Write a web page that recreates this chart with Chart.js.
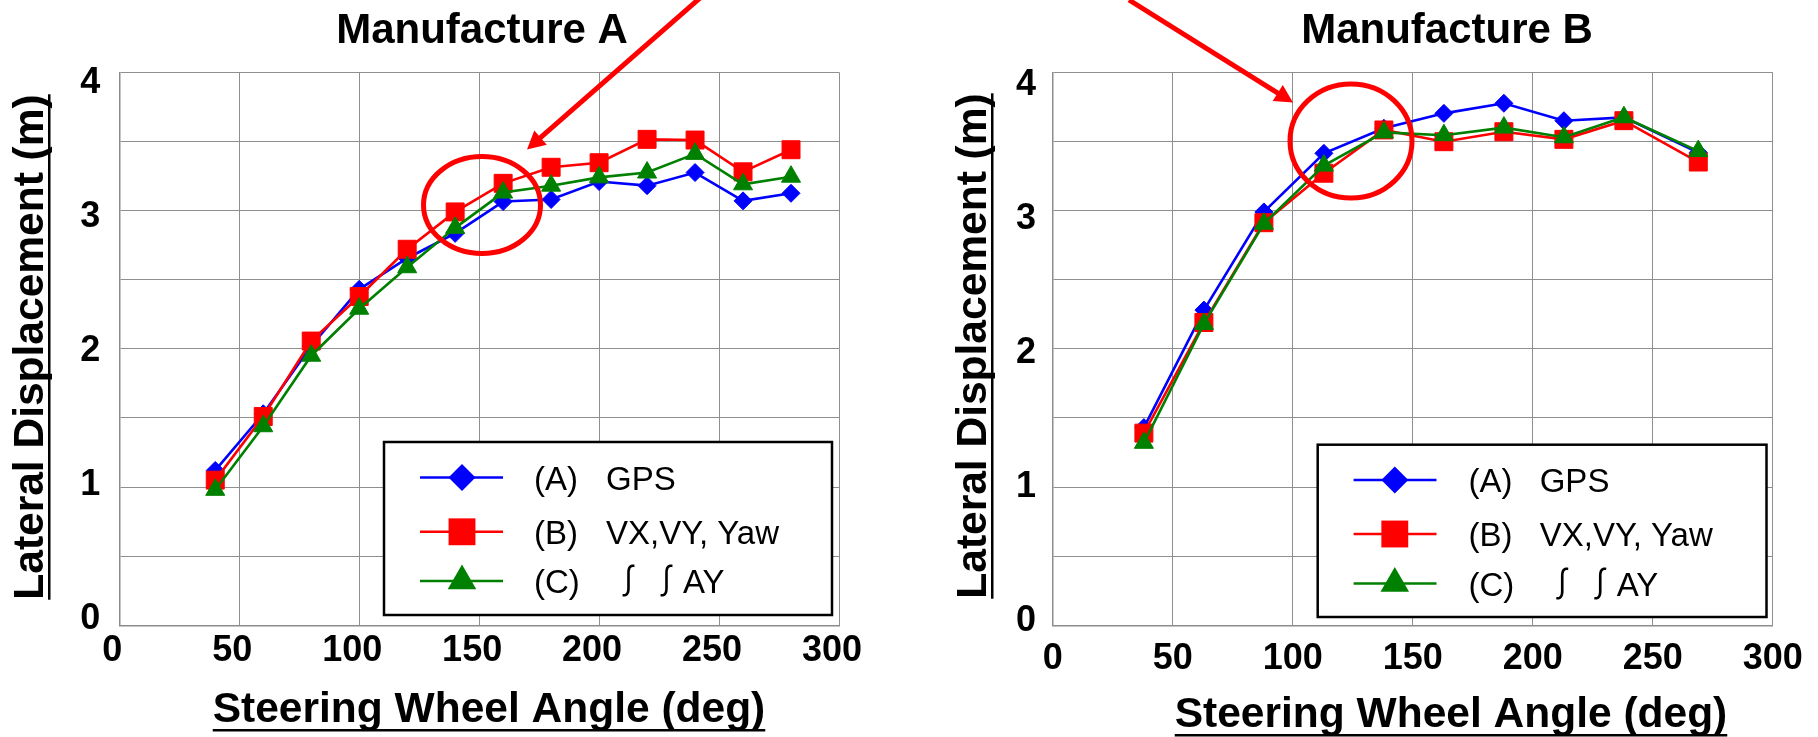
<!DOCTYPE html>
<html><head><meta charset="utf-8">
<script src="https://cdn.jsdelivr.net/npm/chart.js@4.4.1/dist/chart.umd.min.js"></script>
<style>
html,body{margin:0;padding:0;background:#fff;}
#wrap{position:relative;width:1818px;height:737px;overflow:hidden;background:#fff;}
.c{position:absolute;top:0;width:909px;height:737px;}
</style></head><body>
<div id="wrap">
<div class="c" style="left:0"><canvas id="cA" width="909" height="737"></canvas></div>
<div class="c" style="left:909px"><canvas id="cB" width="909" height="737"></canvas></div>
</div>
<script>
// ---- data ----
const seriesTags = ['(A)', '(B)', '(C)'];
const seriesNames = ['GPS', 'VX,VY, Yaw', '\u222B \u222BAY'];
const xTicks = [0, 50, 100, 150, 200, 250, 300];
const yTicks = [0, 1, 2, 3, 4];

const anglesA = [40, 60, 80, 100, 120, 140, 160, 180, 200, 220, 240, 260, 280];
const gpsA  = [1.12, 1.53, 2.02, 2.43, 2.655, 2.835, 3.065, 3.08, 3.21, 3.18, 3.275, 3.07, 3.125];
const vxvyA = [1.05, 1.51, 2.056, 2.378, 2.72, 2.99, 3.197, 3.313, 3.346, 3.515, 3.51, 3.28, 3.44];
const ayA   = [0.98, 1.44, 1.95, 2.29, 2.59, 2.875, 3.13, 3.18, 3.24, 3.275, 3.41, 3.19, 3.245];

const anglesB = [38, 63, 88, 113, 138, 163, 188, 213, 238, 269];
const gpsB  = [1.43, 2.28, 2.99, 3.414, 3.595, 3.703, 3.776, 3.65, 3.674, 3.42];
const vxvyB = [1.39, 2.19, 2.912, 3.27, 3.583, 3.498, 3.57, 3.515, 3.65, 3.351];
const ayB   = [1.32, 2.18, 2.905, 3.325, 3.565, 3.545, 3.60, 3.53, 3.675, 3.43];

// ---- styles ----
const colors = ['#0000ff', '#ff0000', '#008000'];
const pStyles = ['rectRot', 'rect', 'triangle'];
const pRadii = [9, 12.7, 11];
const legRadii = [13.5, 19, 16.5];
const FONT = '"Liberation Sans", Arial, Helvetica, sans-serif';
const CJK = '"Noto Sans CJK JP", "Liberation Sans", sans-serif';

function drawMarker(ctx, style, r, x, y, color) {
  ctx.fillStyle = color;
  ctx.beginPath();
  if (style === 'rectRot') {
    ctx.moveTo(x, y - r); ctx.lineTo(x + r, y); ctx.lineTo(x, y + r); ctx.lineTo(x - r, y);
  } else if (style === 'rect') {
    const s = r * Math.SQRT1_2;
    ctx.rect(x - s, y - s, 2 * s, 2 * s);
  } else {
    ctx.moveTo(x, y - r);
    ctx.lineTo(x + r * 0.866, y + r / 2);
    ctx.lineTo(x - r * 0.866, y + r / 2);
  }
  ctx.closePath();
  ctx.fill();
}

function arrow(ctx, x0, y0, x1, y1, hl, hw) {
  const dx = x1 - x0, dy = y1 - y0, L = Math.hypot(dx, dy);
  const ux = dx / L, uy = dy / L;
  const bx = x1 - ux * hl, by = y1 - uy * hl;
  ctx.beginPath();
  ctx.moveTo(x0, y0); ctx.lineTo(bx + ux * 2, by + uy * 2);
  ctx.stroke();
  ctx.beginPath();
  ctx.moveTo(x1, y1);
  ctx.lineTo(bx - uy * hw, by + ux * hw);
  ctx.lineTo(bx + uy * hw, by - ux * hw);
  ctx.closePath();
  ctx.fill();
}

const decor = {
  id: 'decor',
  afterDraw(chart, args, o) {
    const ctx = chart.ctx;
    ctx.save();
    ctx.fillStyle = '#000';
    ctx.textBaseline = 'alphabetic';
    // main title
    ctx.font = 'bold ' + o.titleSize + 'px ' + FONT;
    ctx.textAlign = 'center';
    ctx.fillText(o.title, o.titleX, o.titleY);
    // x axis title (underlined)
    ctx.font = 'bold ' + o.axSize + 'px ' + FONT;
    let w = ctx.measureText(o.xTitle).width;
    ctx.fillText(o.xTitle, o.xTitleX, o.xTitleY);
    ctx.fillRect(o.xTitleX - w / 2, o.xTitleY + 7, w, 2.5);
    // y axis title (rotated, underlined)
    ctx.save();
    ctx.translate(o.yTitleX, o.yTitleY);
    ctx.rotate(-Math.PI / 2);
    w = ctx.measureText(o.yTitle).width;
    ctx.fillText(o.yTitle, 0, 0);
    ctx.fillRect(-w / 2, 5, w, 2.5);
    ctx.restore();
    // legend box
    const L = o.legend;
    ctx.fillStyle = '#fff';
    ctx.fillRect(L.x0, L.y0, L.x1 - L.x0, L.y1 - L.y0);
    ctx.strokeStyle = '#000';
    ctx.lineWidth = 2.5;
    ctx.strokeRect(L.x0, L.y0, L.x1 - L.x0, L.y1 - L.y0);
    ctx.textAlign = 'left';
    chart.data.datasets.forEach((ds, i) => {
      const y = L.rows[i];
      ctx.strokeStyle = ds.borderColor;
      ctx.lineWidth = 2.5;
      ctx.beginPath(); ctx.moveTo(L.lx0, y); ctx.lineTo(L.lx1, y); ctx.stroke();
      drawMarker(ctx, ds.pointStyle, legRadii[i], L.mx, y, ds.borderColor);
      ctx.fillStyle = '#000';
      ctx.font = L.size + 'px ' + FONT;
      ctx.fillText(seriesTags[i], L.tx0, y + 12);
      if (i === 2) {
        const parts = seriesNames[i].split(' ');
        ctx.font = L.size + 'px ' + CJK;
        ctx.fillText('\u222B', L.tx1 + 6, y + 12);
        ctx.fillText('\u222B', L.tx1 + 44, y + 12);
        ctx.font = L.size + 'px ' + FONT;
        ctx.fillText(parts[1].replace('\u222B', ''), L.tx1 + 77, y + 12);
      } else {
        ctx.fillText(seriesNames[i], L.tx1, y + 12);
      }
    });
    // red annotations
    ctx.strokeStyle = '#ff0000';
    ctx.fillStyle = '#ff0000';
    ctx.lineWidth = 5;
    const E = o.ellipse;
    ctx.beginPath();
    ctx.ellipse(E.x, E.y, E.rx, E.ry, 0, 0, Math.PI * 2);
    ctx.stroke();
    const A = o.arrow;
    arrow(ctx, A.x0, A.y0, A.x1, A.y1, 18, 9.5);
    ctx.restore();
  }
};

function makeChart(id, angles, series, geo, dec) {
  const datasets = series.map((vals, i) => ({
    label: seriesTags[i] + ' ' + seriesNames[i],
    data: angles.map((a, j) => ({ x: a, y: vals[j] })),
    borderColor: colors[i],
    backgroundColor: colors[i],
    pointBackgroundColor: colors[i],
    pointBorderColor: colors[i],
    pointBorderWidth: 1,
    pointStyle: pStyles[i],
    pointRadius: pRadii[i],
    borderWidth: 2.6,
    tension: 0,
    order: 3 - i
  }));
  const gridColor = '#8f8f8f';
  const tickFont = { family: FONT, size: 36, weight: 'bold' };
  return new Chart(document.getElementById(id), {
    type: 'line',
    data: { datasets },
    plugins: [decor],
    options: {
      responsive: false,
      animation: false,
      devicePixelRatio: 1,
      layout: { padding: { left: 0, top: geo.top, right: geo.right, bottom: 0 } },
      plugins: {
        legend: { display: false },
        title: { display: false },
        tooltip: { enabled: false },
        decor: dec
      },
      scales: {
        x: {
          type: 'linear', min: 0, max: 300,
          afterFit(s) { s.height = geo.xh; },
          afterBuildTicks(s) { s.ticks = xTicks.map(v => ({ value: v })); },
          ticks: { color: '#000', padding: geo.xpad, labelOffset: geo.xoff, maxRotation: 0, font: tickFont },
          grid: { color: gridColor, lineWidth: 1, drawTicks: false },
          border: { display: true, color: '#8c8c8c', width: 1.5 }
        },
        y: {
          type: 'linear', min: 0, max: 4, position: 'left', weight: 0,
          afterFit(s) { s.width = 0; },
          afterBuildTicks(s) {
            const t = [];
            for (let k = 0; k <= 8; k++) t.push({ value: k / 2 });
            s.ticks = t;
          },
          ticks: { display: false },
          grid: { color: gridColor, lineWidth: 1, drawTicks: false },
          border: { display: true, color: '#8c8c8c', width: 1.5 }
        },
        yl: {
          type: 'linear', position: 'left', weight: 1,
          min: geo.ylMin, max: geo.ylMax,
          afterFit(s) { s.width = geo.yw; },
          afterBuildTicks(s) { s.ticks = yTicks.map(v => ({ value: v })); },
          ticks: { color: '#000', padding: geo.ypad, font: tickFont },
          grid: { display: false, drawTicks: false },
          border: { display: false }
        }
      }
    }
  });
}

// label axis ranges chosen so integer labels sit where the reference prints them
makeChart('cA', anglesA, [gpsA, vxvyA, ayA],
  { top: 72.3, right: 70, xh: 111.7, yw: 119.3, xpad: 4, xoff: -7, ypad: 19,
    ylMin: -0.0486, ylMax: 4.084 },
  {
    title: 'Manufacture A', titleSize: 42, titleX: 482, titleY: 43,
    axSize: 42.5,
    xTitle: 'Steering Wheel Angle (deg)', xTitleX: 489, xTitleY: 722,
    yTitle: 'Lateral Displacement (m)', yTitleX: 43, yTitleY: 347,
    legend: { x0: 384, y0: 442, x1: 832, y1: 615, size: 33,
              rows: [477.6, 531.8, 581], lx0: 420, lx1: 503, mx: 462, tx0: 534, tx1: 606 },
    ellipse: { x: 482, y: 205, rx: 58.5, ry: 48.5 },
    arrow: { x0: 700, y0: -2, x1: 527, y1: 149.5 }
  });

makeChart('cB', anglesB, [gpsB, vxvyB, ayB],
  { top: 72.3, right: 45.3, xh: 111.7, yw: 143.7, xpad: 12, xoff: 0, ypad: 16.7,
    ylMin: -0.0321, ylMax: 4.0918 },
  {
    title: 'Manufacture B', titleSize: 42, titleX: 538, titleY: 43,
    axSize: 42.5,
    xTitle: 'Steering Wheel Angle (deg)', xTitleX: 542, xTitleY: 727,
    yTitle: 'Lateral Displacement (m)', yTitleX: 77, yTitleY: 346,
    legend: { x0: 408.7, y0: 444.7, x1: 857.5, y1: 617, size: 33,
              rows: [480, 534, 583.5], lx0: 444.6, lx1: 527.5, mx: 485.8, tx0: 559.4, tx1: 630.7 },
    ellipse: { x: 442, y: 141, rx: 61, ry: 57 },
    arrow: { x0: 220, y0: 0, x1: 384, y1: 102.5 }
  });
</script>
</body></html>
